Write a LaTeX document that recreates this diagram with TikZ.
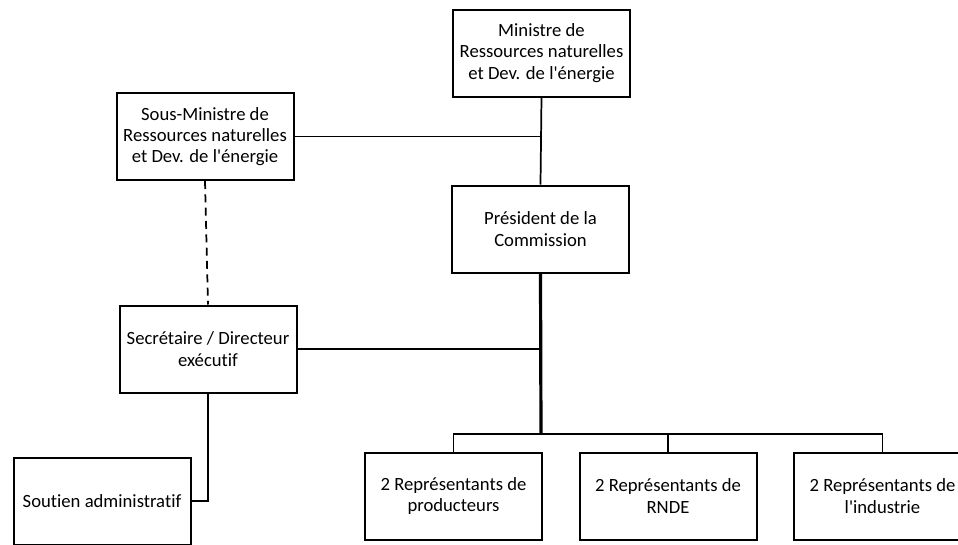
\documentclass[tikz,border=0pt]{standalone}
\usepackage{fontspec}
\setmainfont{Carlito}[Ligatures={NoCommon}]
\begin{document}
\begin{tikzpicture}[x=0.75pt,y=-0.75pt,
  box/.style={draw=black,line width=1.5pt,rectangle,minimum width=177*0.75pt,minimum height=87*0.75pt,align=center,inner sep=0pt,font=\fontsize{14}{16}\selectfont},
  conn/.style={line width=1.3pt},
  thickconn/.style={line width=2.4pt},
  dashconn/.style={line width=1.3pt,dashed,dash pattern=on 6pt off 4pt}]
\useasboundingbox (0,0) rectangle (958,544);
\node[box] (min) at (541.5,53) {Ministre de\\Ressources naturelles\\et Dev. de l\textquotesingle énergie};
\node[box] (sous) at (205,136.5) {Sous-Ministre de\\Ressources naturelles\\et Dev. de l\textquotesingle énergie};
\node[box] (pres) at (540.5,229) {Président de la\\Commission};
\node[box] (sec) at (208,349) {Secrétaire / Directeur\\exécutif};
\node[box] (sout) at (102,501) {Soutien administratif};
\node[box] (prod) at (453.5,496) {2 Représentants de\\producteurs};
\node[box] (rnde) at (668,496) {2 Représentants de\\RNDE};
\node[box] (ind) at (882.5,496) {2 Représentants de\\l\textquotesingle industrie};
\coordinate (bar) at (541,434);
\draw[conn] (min.south) -- (pres.north);
\draw[conn] (sous.east) -- (sous.east -| min.south);
\draw[dashconn] (sous.south) -- (sec.north);
\draw[thickconn] (pres.south) -- (bar);
\draw[conn] (sec.east) -- (sec.east -| bar);
\draw[conn] (prod.north) |- (bar) -| (ind.north);
\draw[conn] (rnde.north) -- (rnde.north |- bar);
\draw[conn] (sec.south) |- (sout.east);
\end{tikzpicture}
\end{document}
